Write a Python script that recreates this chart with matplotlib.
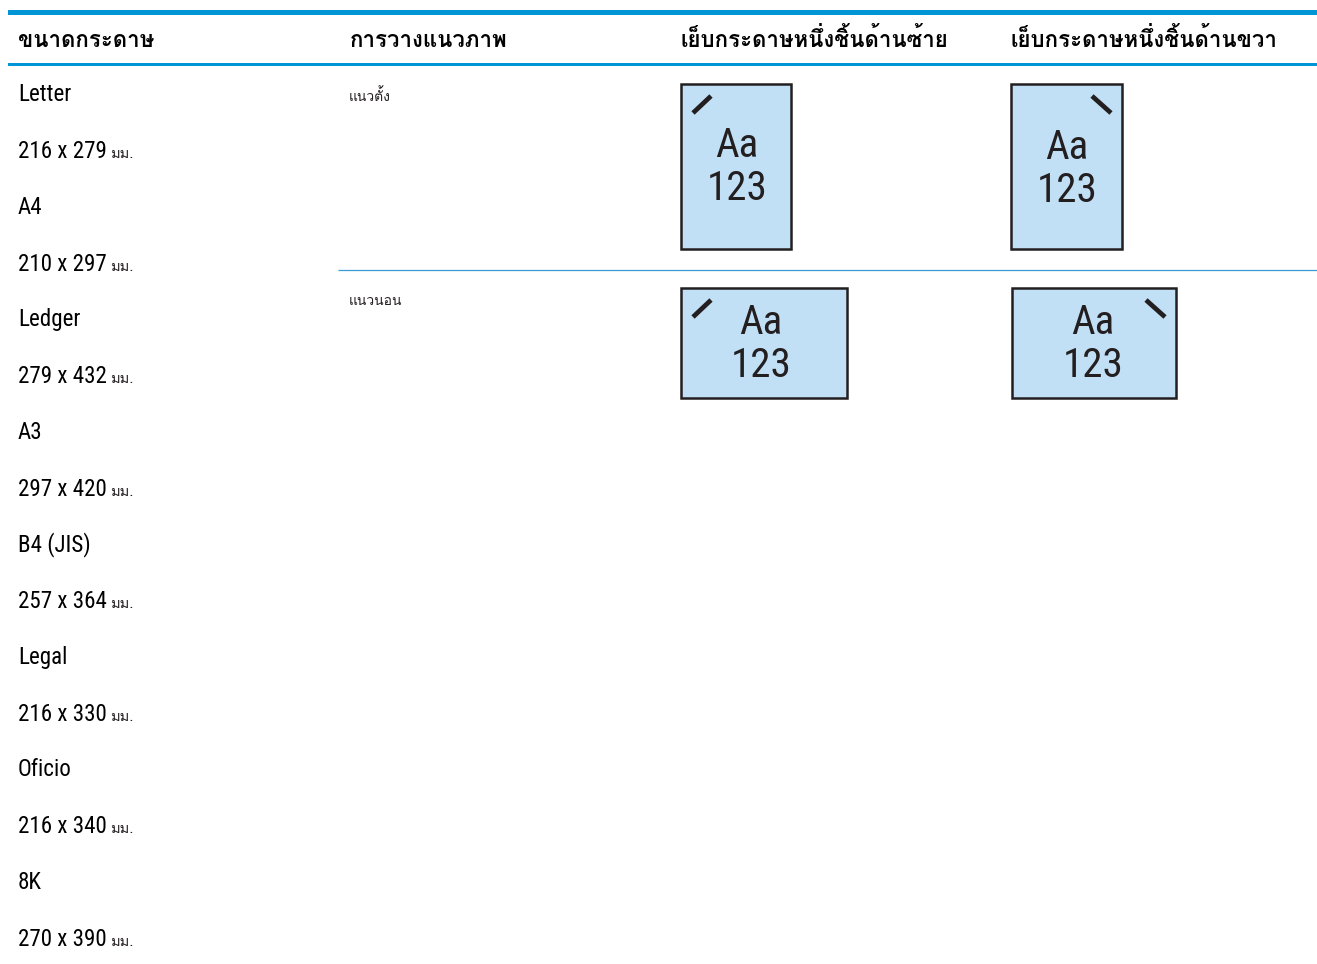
import matplotlib
matplotlib.use("Agg")
import matplotlib.pyplot as plt
from matplotlib.patches import Rectangle

# ข้อมูลในตาราง
headers = ["ขนาดกระดาษ", "การวางแนวภาพ", "เย็บกระดาษหนึ่งชิ้นด้านซ้าย", "เย็บกระดาษหนึ่งชิ้นด้านขวา"]
paper_names = ["Letter", "A4", "Ledger", "A3", "B4 (JIS)", "Legal", "Oficio", "8K"]
paper_sizes = ["216 x 279", "210 x 297", "279 x 432", "297 x 420", "257 x 364", "216 x 330", "216 x 340", "270 x 390"]
unit = "มม."
orientations = ["แนวตั้ง", "แนวนอน"]
icon_lines = ["Aa", "123"]

BLUE = "#0096D6"
PAGE = "#C2E0F5"
INK = "#231F20"
THAI = ["Loma", "Noto Sans Thai"]
LATIN = ["Roboto Condensed", "Liberation Sans Narrow", "Noto Sans Thai"]

col_x = [18, 350, 680, 1010]
row_base = [101, 158, 214, 271, 326, 383, 439, 496, 551, 608, 664, 721, 776, 833, 889, 946]

fig = plt.figure(figsize=(13.17, 9.64), dpi=100)
ax = fig.add_axes([0, 0, 1, 1])
ax.set_xlim(0, 1317)
ax.set_ylim(964, 0)
ax.axis("off")

# เส้นหัวตาราง
ax.add_patch(Rectangle((8, 9.5), 1309, 5.5, facecolor=BLUE, edgecolor="none"))
ax.add_patch(Rectangle((8, 63), 1309, 3.2, facecolor=BLUE, edgecolor="none"))
ax.plot([338, 1317], [269.6, 269.6], color="#3A9BD5", lw=0.9, solid_capstyle="butt")

for x, label in zip(col_x, headers):
    ax.text(x, 47, label, family=THAI, weight="bold", fontsize=16, color="black", va="baseline", ha="left")

# คอลัมน์แรก ชื่อกระดาษสลับกับขนาด
for i, name in enumerate(paper_names):
    ax.text(18, row_base[i * 2], name, family=LATIN, fontsize=16.6, color="black", va="baseline", ha="left")
    ax.text(18, row_base[i * 2 + 1], paper_sizes[i], family=LATIN, fontsize=16.6, color="black", va="baseline", ha="left")
    ax.text(110, row_base[i * 2 + 1], unit, family=THAI, fontsize=10.5, color=INK, va="baseline", ha="left")

ax.text(349, 101, orientations[0], family=THAI, fontsize=10, color=INK, va="baseline", ha="left")
ax.text(349, 305, orientations[1], family=THAI, fontsize=10, color=INK, va="baseline", ha="left")


def draw_page(x0, x1, y0, y1, staple, cx, base1, base2):
    ax.add_patch(Rectangle((x0 + 1, y0 + 1), x1 - x0 - 2, y1 - y0 - 2, facecolor=PAGE, edgecolor=INK, lw=1.8))
    ax.plot(staple[0], staple[1], color=INK, lw=3.4, solid_capstyle="butt")
    ax.text(cx, base1, icon_lines[0], family=LATIN, fontsize=29.5, color=INK, ha="center", va="baseline")
    ax.text(cx, base2, icon_lines[1], family=LATIN, fontsize=29.5, color=INK, ha="center", va="baseline")


draw_page(680, 792, 82.5, 249.5, ([693, 711], [113, 96]), 737, 157, 200)
draw_page(1010, 1123, 82.5, 249.5, ([1092, 1111], [96, 113]), 1067, 159, 202)
draw_page(680, 848, 286.5, 399, ([693, 711], [317, 300]), 761, 334, 377)
draw_page(1010.5, 1177, 286.5, 399, ([1146, 1165], [300, 317]), 1093, 334, 377)

fig.savefig("out.png", dpi=100)
